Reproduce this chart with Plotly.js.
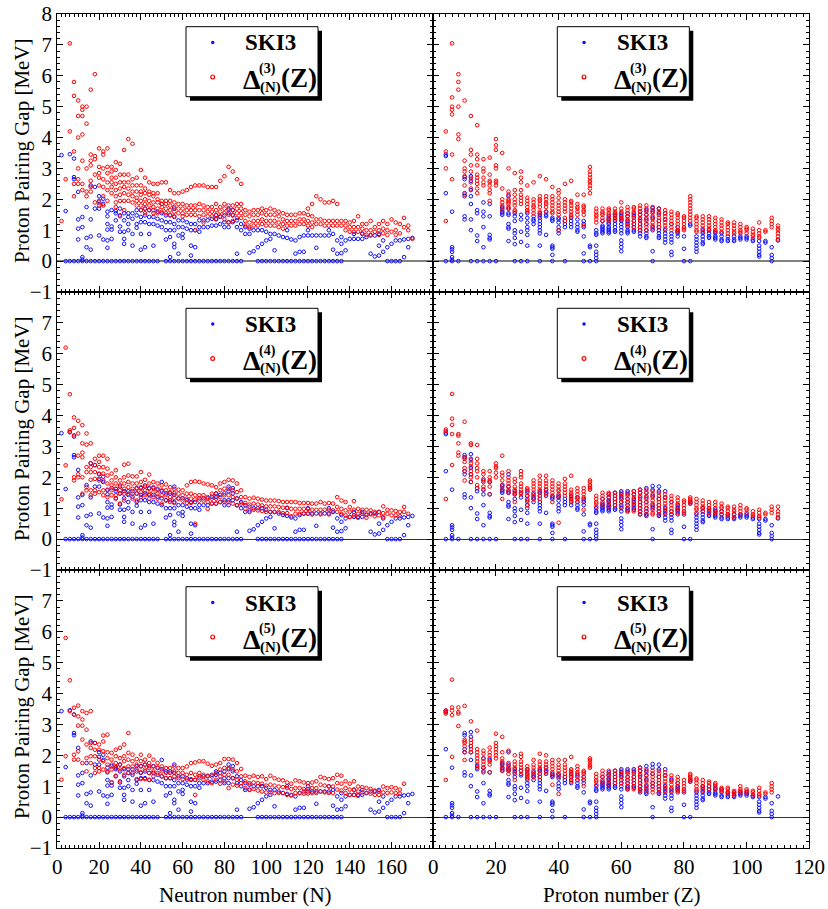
<!DOCTYPE html>
<html><head><meta charset="utf-8">
<script src="https://cdn.plot.ly/plotly-3.0.1.min.js"></script>
<style>html,body{margin:0;padding:0;background:#fff}#c{width:828px;height:909px}</style>
</head><body><div id="c"></div><script>
// ---------- DATA ----------
// SKI3 values at zero, vs neutron number N
const skiZeroN = [4,6,8,10,12,14,16,18,20,22,24,26,28,30,32,34,36,38,40,42,44,46,48,52,54,56,58,60,62,64,66,68,70,72,74,76,78,80,82,84,86,88,96,98,100,102,104,106,108,110,112,114,116,118,120,122,124,126,128,130,132,134,136,158,160,162,164];
// SKI3 non-zero values vs N: [N, values...]
const skiByN = [[2,3.43],[4,1.62],[6,3.46],[8,3.32,2.72,2.65],[10,2.24,1.35,1.05,0.7],[12,1.43,1.1,0.13,0.05],[14,1.75,0.75,0.45],[16,2.45,1.35,0.8,0.37],[18,2.4,1.7],[20,2.1,1.95,1.7,0.83],[22,2.02,1.85,0.7],[24,1.6,1.45,1.2,1.02,0.67,0.43],[26,1.65,1.12,1.02,0.72],[28,1.62,1.55,1.32],[30,1.7,1.48,1.12,0.95],[32,1.55,1.32,0.95,0.72,0.56],[34,1.55,1.43,1.2,1.0],[36,1.55,1.37,0.88,0.5],[38,1.65,1.48,1.2,1.08],[40,1.65,1.43,1.26,0.88,0.37],[42,1.7,1.48,1.26,0.45],[44,1.65,1.43,1.2,0.88],[46,1.65,1.43,1.2,0.5],[48,1.6,1.37,1.15],[50,1.85,1.55,1.32,1.1],[52,1.48,1.26,1.0,0.7],[54,1.48,1.26,1.0,0.78,0.13],[56,1.7,1.43,1.2,1.0,0.56,0.45],[58,1.32,1.1,0.83,0.24],[60,1.32,1.1,0.88,0.75],[62,1.26,1.05],[64,1.2,1.0,0.5,0.18],[66,1.2,1.0,0.45],[68,1.32,1.1,0.95],[70,1.32,1.1],[72,1.32,1.1],[74,1.37,1.15],[76,1.48,1.37,1.15],[78,1.43,1.2],[80,1.48,1.26,1.1],[82,1.7,1.55,1.26,1.1],[84,1.65,1.48,1.26],[86,1.32,1.1,0.24],[88,1.2,1.0],[90,1.1,0.88],[92,1.05,0.88,0.27],[94,1.0,0.32],[96,1.0,0.45],[98,1.0,0.56],[100,0.95,0.67],[102,0.88,0.72],[104,0.88,0.35],[106,0.83],[108,0.78],[110,1.0,0.75],[112,0.7],[114,0.67,0.24],[116,0.78,0.3],[118,0.83,0.3],[120,1.0,0.83],[122,0.83],[124,0.83,0.43],[126,0.83],[128,0.83],[130,1.0,0.83],[132,0.88,0.37],[134,0.67,0.24],[136,0.78,0.56,0.26],[138,0.67,0.35],[140,0.72],[142,0.88,0.72],[144,0.72],[146,0.88,0.72],[148,0.78],[150,0.83,0.24],[152,0.83,0.15],[154,0.88,0.5,0.18],[156,0.67,0.3],[158,0.45],[160,0.56],[162,0.67],[164,0.67],[166,0.7,0.13],[168,0.72,0.45],[170,0.75]];
// Experimental gaps vs N
const d3ByN = [[2,1.3],[4,2.65],[6,7.05,4.2],[8,5.8,5.35,3.55,2.5,2.1],[10,5.2,4.7,4.0,3.0,2.65,2.5],[12,5.0,4.9,4.7,4.1,3.25,2.5,2.3],[14,5.0,4.45,3.0,2.25,2.1],[16,5.55,3.45,3.25,3.1,2.6,2.4,2.25],[18,6.05,3.4,3.3,2.8,1.9],[20,3.65,3.05,2.85,2.7,2.45,1.9,1.8],[22,3.55,3.45,3.0,2.65,2.4,2.1,1.8],[24,3.65,3.05,2.85,2.55,2.3,1.95],[26,3.05,2.9,2.7,2.55,2.4,2.2],[28,3.2,2.95,2.7,2.5,2.3,2.1,1.9,1.75],[30,3.15,2.8,2.55,2.35,2.15,1.95,1.45],[32,3.6,2.8,2.55,2.4,2.2,1.95,1.65],[34,3.95,2.8,2.55,2.35,2.15,1.95],[36,3.8,2.65,2.45,2.25,2.1,1.9],[38,2.7,2.45,2.25,2.05,1.95,1.8],[40,2.95,2.45,2.25,2.15,1.95,1.8,1.65],[42,2.7,2.35,2.2,2.0,1.85,1.7,1.55],[44,2.55,2.25,2.15,1.95,1.8,1.65],[46,2.5,2.2,2.1,1.9,1.75,1.55],[48,2.5,2.2,2.0,1.9,1.7,1.55],[50,2.55,1.95,1.85,1.75,1.6],[52,2.55,1.95,1.85,1.7,1.55],[54,2.3,1.95,1.8,1.65,1.5],[56,2.2,1.9,1.75,1.6,1.45],[58,2.2,1.85,1.7,1.55],[60,2.25,1.85,1.7,1.55,1.45],[62,2.3,1.8,1.65,1.5],[64,2.4,1.8,1.65,1.5],[66,2.45,1.8,1.65,1.5,1.0],[68,2.45,1.85,1.65,1.45],[70,2.45,1.8,1.65,1.5,1.25],[72,2.4,1.75,1.6,1.45],[74,2.4,1.75,1.6,1.45],[76,2.4,1.85,1.65,1.5,1.35],[78,2.6,1.75,1.6,1.45],[80,2.75,1.85,1.7,1.55,1.35],[82,3.05,1.8,1.65,1.5,1.25],[84,2.9,1.8,1.65,1.5,1.3],[86,2.65,1.85,1.7,1.55,1.4],[88,2.5,1.85,1.7,1.55,1.4],[90,1.65,1.5,1.3,1.15],[92,1.6,1.45,1.25,1.1],[94,1.65,1.5,1.3,1.15],[96,1.65,1.5,1.3,1.15],[98,1.7,1.55,1.35,1.2],[100,1.65,1.5,1.3,1.15],[102,1.7,1.5,1.3,1.15],[104,1.65,1.5,1.3,1.15],[106,1.6,1.45,1.25,1.1],[108,1.55,1.35,1.2,1.05],[110,1.5,1.3,1.15],[112,1.5,1.3,1.15],[114,1.5,1.3,1.15],[116,1.55,1.35,1.2],[118,1.55,1.35,1.2],[120,1.7,1.5,1.3,1.15],[122,1.85,1.45,1.25,1.1],[124,2.1,1.35,1.2],[126,2.0,1.35,1.2],[128,1.9,1.3,1.15],[130,1.9,1.3,1.15],[132,1.95,1.3,1.15],[134,1.85,1.3,1.15],[136,1.3,1.15],[138,1.3,1.15,1.0],[140,1.25,1.1,0.95],[142,1.3,1.1,0.95],[144,1.45,1.1,0.95],[146,1.2,1.05,0.9],[148,1.2,1.0,0.85],[150,1.3,1.0,0.85],[152,1.1,0.95],[154,1.2,1.0,0.85],[156,1.3,1.05,0.9],[158,1.2,1.0,0.85],[160,1.35,0.95],[162,1.25,1.0,0.85],[164,1.2,0.9],[166,1.4,1.1],[168,1.15,1.0],[170,0.72]];
const d4ByN = [[2,1.29],[4,6.2,2.39],[6,4.69,3.52,3.47],[8,3.94,3.6,3.36,2.0,1.9],[10,3.83,3.42,2.7,2.1,2.0],[12,3.69,3.1,2.8,2.65,2.0,1.47],[14,3.42,3.06,2.33,2.17,1.68,1.58],[16,3.1,2.46,2.33,2.17,1.92,1.58,1.42],[18,2.6,2.39,2.17,1.95,1.58,1.47],[20,2.7,2.5,2.33,2.12,1.9,1.52],[22,2.7,2.33,2.12,1.9,1.58,1.42],[24,2.6,2.28,2.06,1.8,1.58,1.36],[26,2.12,1.9,1.74,1.58,1.42],[28,2.23,2.0,1.8,1.63,1.42,1.31],[30,1.9,1.74,1.58,1.47,1.15],[32,2.41,2.0,1.8,1.63,1.47,1.25],[34,2.44,2.06,1.85,1.68,1.47],[36,2.03,1.8,1.63,1.47,1.31],[38,2.03,1.8,1.63,1.47,1.25],[40,2.17,1.85,1.68,1.52,1.36],[42,1.92,1.74,1.58,1.42],[44,2.09,1.8,1.63,1.47,1.31],[46,1.85,1.68,1.52,1.36],[48,1.8,1.63,1.47,1.31],[50,1.74,1.58,1.42,1.15],[52,1.77,1.58,1.42,1.25],[54,1.68,1.52,1.36,1.2],[56,1.63,1.49,1.34,1.17],[58,1.6,1.47,1.31],[60,1.58,1.42,1.25],[62,1.74,1.47,1.31,1.17],[64,1.85,1.47,1.31,1.17],[66,1.87,1.42,1.28,0.5],[68,1.85,1.42,1.25],[70,1.8,1.42,1.25],[72,1.77,1.36,1.2,0.98],[74,1.74,1.47,1.31,1.15],[76,1.68,1.47,1.31,1.15],[78,1.8,1.58,1.36,1.2],[80,1.85,1.63,1.42,1.2],[82,1.92,1.63,1.42,1.2],[84,1.9,1.58,1.36,1.15],[86,1.8,1.52,1.31,1.09],[88,1.58,1.36,1.15],[90,1.36,1.17,0.98],[92,1.31,1.12,0.93],[94,1.34,1.15,0.95],[96,1.31,1.12,0.93],[98,1.28,1.09,0.91],[100,1.25,1.06,0.88],[102,1.25,1.06,0.88],[104,1.25,1.06,0.88],[106,1.23,1.04,0.88],[108,1.2,1.02,0.84],[110,1.2,1.02,0.84],[112,1.2,0.98,0.74],[114,1.2,0.98,0.82],[116,1.17,0.98,0.82],[118,1.17,0.98,0.82],[120,1.17,0.98,0.82],[122,1.15,0.95,0.8],[124,1.15,0.95],[126,1.2,0.95,0.8],[128,1.15,0.95],[130,1.17,0.95,0.8],[132,1.15,0.93],[134,1.36,1.04,0.88],[136,1.25,0.98,0.82],[138,1.2,0.93,0.77],[140,1.04,0.88,0.71],[142,1.23,0.95,0.77],[144,0.98,0.82,0.69],[146,0.95,0.82],[148,0.95,0.8,0.69],[150,0.93,0.8],[152,0.88,0.74],[154,0.88,0.77],[156,1.06,0.84,0.71],[158,0.95,0.82],[160,0.93,0.77],[162,0.91,0.77],[164,0.88,0.74],[166,1.04,0.88],[168,0.82]];
const d5ByN = [[2,1.21],[4,5.8,1.97],[6,4.43,3.43],[8,3.54,3.32,2.02,1.86],[10,3.61,3.26,2.96,2.13,1.86],[12,3.43,3.16,2.96,2.51,1.75],[14,3.37,2.83,2.35,1.91,1.48],[16,3.43,2.4,2.24,1.97,1.75],[18,2.4,2.18,1.97,1.59,1.43],[20,2.35,2.18,1.86,1.59,1.48],[22,2.64,2.45,2.13,1.81,1.54],[24,2.67,2.1,1.91,1.7,1.48],[26,2.08,1.86,1.7,1.54,1.12],[28,2.18,1.97,1.75,1.59,1.34],[30,2.24,1.91,1.7,1.54,1.16],[32,2.35,1.97,1.81,1.59,1.37],[34,2.72,2.08,1.86,1.64,1.43],[36,2.02,1.81,1.64,1.43],[38,1.88,1.7,1.54,1.23],[40,2.02,1.81,1.64,1.45,1.23],[42,1.86,1.7,1.54,1.23],[44,1.99,1.75,1.59,1.43,1.21],[46,1.86,1.64,1.48,1.32],[48,1.75,1.59,1.43],[50,1.64,1.48,1.32],[52,1.59,1.43,1.26],[54,1.59,1.43,1.26],[56,1.64,1.48,1.32],[58,1.59,1.43,1.26],[60,1.59,1.43,1.23],[62,1.64,1.37,1.21],[64,1.75,1.43,1.23],[66,1.77,1.37,1.21,0.72],[68,1.81,1.43,1.26],[70,1.81,1.37,1.21],[72,1.73,1.34,1.16],[74,1.66,1.32,1.1],[76,1.7,1.43,1.21],[78,1.75,1.54,1.32,1.08],[80,1.88,1.59,1.37,1.16],[82,1.88,1.59,1.37,0.94],[84,1.86,1.54,1.26,1.05],[86,1.75,1.48,1.21,1.02],[88,1.56,1.32,1.1],[90,1.34,1.16,0.94],[92,1.3,1.1,0.89],[94,1.34,1.12,0.91],[96,1.3,1.1,0.86],[98,1.32,1.08,0.83],[100,1.23,1.02,0.8],[102,1.34,1.05,0.8],[104,1.26,1.02,0.78],[106,1.21,0.99,0.78],[108,1.19,0.97,0.78],[110,1.12,0.94,0.72],[112,1.08,0.91,0.72],[114,1.19,0.94,0.78],[116,1.16,0.94,0.78],[118,1.12,0.91,0.76],[120,1.1,0.91,0.76],[122,1.12,0.94,0.78],[124,1.16,0.94,0.78],[126,1.3,1.05,0.83],[128,1.26,1.02,0.8],[130,1.23,0.99,0.78],[132,1.26,0.99,0.78],[134,1.37,1.1,0.89],[136,1.34,1.08,0.86],[138,1.16,0.94,0.78],[140,1.08,0.89,0.72],[142,1.16,0.89,0.72],[144,0.99,0.83,0.69],[146,0.97,0.8],[148,0.94,0.78],[150,0.91,0.76],[152,0.86,0.72],[154,0.83,0.72],[156,0.99,0.8],[158,0.94,0.78],[160,0.97,0.8],[162,0.94,0.78],[164,0.89,0.76],[166,1.08]];
// SKI3 vs proton number Z: [Z, values...]
const skiByZ = [[4,3.45,3.4,2.2,0],[6,1.6,0.45,0.38,0.3,0.13,0.05,0],[8,0],[10,2.72,2.65,2.2,2.1,1.45,1.35],[12,2.75,2.6,2.3,2.1,1.85,1.35,1.0,0],[14,1.65,1.55,0.83,0.65,0],[16,1.9,1.6,1.45,1.1,0.45,0],[18,1.85,1.45,0.85,0.75,0.7,0],[20,0],[22,1.75,1.7,1.6,1.55,1.5],[24,2.1,1.7,1.55,1.5,1.2,1.1,1.05,0.65],[26,1.55,1.45,1.3,1.0,0.9,0.75,0.55,0],[28,1.5,1.35,0.95,0.62,0],[30,1.55,1.4,1.25,1.1,1.0,0.85,0.5,0],[32,1.45,1.35,1.3,1.2],[34,1.55,1.5,1.4,1.3,1.2,1.1,1.0,0.9,0.5,0],[36,1.6,1.5,1.45,0.85],[38,1.4,1.35,1.3,0.5,0.45,0.4,0.2,0],[40,1.4,1.35,1.25,1.1,1.0,0.9],[42,1.3,1.2,1.1,0],[44,1.4,1.3,1.2,1.1],[46,1.35,1.2,1.1,1.0,0.95],[48,1.3,1.2,1.1,0.8,0.25,0],[50,0.5,0.45,0],[52,1.0,0.9,0.85,0.5,0.3,0.2,0.1,0],[54,1.3,1.15,1.1,1.05,1.0,0.95,0.9],[56,1.45,1.35,1.25,1.2,1.1,1.05,1.0,0.95,0.9],[58,1.5,1.4,1.3,1.2,1.1,1.0,0.95],[60,1.55,1.45,1.35,1.3,1.2,1.1,1.0,0.9,0.67,0.56,0.45,0.32],[62,1.55,1.45,1.3,1.2,1.1,1.0,0.95,0.9],[64,1.55,1.45,1.3,1.2,1.1,1.0,0.95],[66,1.6,1.5,1.35,1.2,1.1,1.0,0.9,0.8],[68,1.65,1.5,1.35,1.2,1.0,0.9,0.8,0.75],[70,1.72,1.6,1.4,1.1,1.0,0.32,0],[72,1.7,1.55,1.3,1.1,1.0,0.9,0.8,0.75],[74,1.55,1.35,1.0,0.9,0.8,0.7,0.6],[76,1.2,0.9,0.8,0.7,0.6,0.3,0.2],[78,1.1,1.0,0.95,0.9,0.8],[80,0.8,0.4,0],[82,1.2,1.15,0],[84,0.8,0.7,0.6,0.5,0.4,0.3],[86,1.0,0.9,0.8,0.7,0.6,0.55],[88,1.0,0.9,0.8,0.75],[90,0.95,0.9,0.8,0.75,0.7],[92,0.9,0.8,0.7,0.65],[94,0.8,0.7,0.65],[96,0.8,0.7,0.65],[98,0.8,0.75,0.7],[100,0.8,0.75,0.7],[102,0.7,0.65],[104,0.65,0.5,0.4,0.3,0.2,0.15],[106,0.65,0.6],[108,0.45,0.2,0.1,0],[110,0.67]];
const d3ByZ = [[4,4.2,3.55,3.0,1.3],[6,7.05,5.3,5.0,4.9,4.75,3.45,2.65],[8,6.05,5.8,5.55,5.0,4.1,3.95],[10,5.2,3.25,3.0,2.9,2.75,2.45,2.15],[12,4.7,3.6,3.45,3.1,2.9,2.7,2.55,2.35],[14,4.4,3.45,3.3,3.1,2.8,2.7,2.6,2.5,2.35,2.2],[16,3.3,3.0,2.9,2.7,2.55,2.45],[18,3.35,2.8,2.6,2.55,2.45,2.3,2.2,1.95],[20,3.95,3.75,3.6,3.1,3.0,2.6,2.55,2.45],[22,3.5,2.35,2.0,1.9,1.8,1.65],[24,3.0,2.25,2.15,2.0,1.95,1.9,1.85,1.75,1.7],[26,2.85,2.3,2.15,2.0,1.9,1.8,1.65,1.6],[28,2.9,2.7,2.55,2.3,2.15,2.05,1.95,1.85],[30,2.45,2.05,1.95,1.85,1.75,1.65,1.6],[32,2.55,2.0,1.9,1.8,1.75,1.65,1.55],[34,2.75,2.1,2.0,1.95,1.85,1.75,1.6,1.45],[36,2.65,2.1,2.0,1.9,1.85,1.75,1.6],[38,2.4,2.1,2.0,1.9,1.8,1.7,1.6,1.55],[40,2.3,2.2,2.05,1.9,1.8,1.7,1.6,1.5,1.0],[42,2.5,2.0,1.9,1.8,1.7,1.6,1.4,1.3],[44,2.6,1.95,1.9,1.8,1.7,1.6,1.5,1.45],[46,2.15,1.85,1.75,1.7,1.6,1.5],[48,2.15,1.8,1.75,1.65,1.6,1.5,1.15],[50,3.05,2.9,2.8,2.7,2.6,2.55,2.45,2.35,2.2],[52,1.7,1.6,1.5,1.45,1.35,1.25],[54,1.7,1.6,1.55,1.5,1.4,1.3],[56,1.7,1.65,1.55,1.5,1.4,1.35,1.3],[58,1.7,1.6,1.55,1.5,1.45,1.35],[60,1.9,1.7,1.6,1.5,1.4,1.35],[62,1.75,1.65,1.55,1.45,1.35,1.25,1.15],[64,1.75,1.7,1.6,1.5,1.4,1.3,1.2,1.1],[66,1.8,1.7,1.6,1.5,1.4,1.3,1.2,1.1,1.0],[68,1.8,1.7,1.6,1.5,1.4,1.3,1.2,1.1,1.0],[70,1.75,1.65,1.55,1.45,1.35,1.25,1.15,1.05],[72,1.7,1.6,1.5,1.4,1.3,1.2,1.1],[74,1.65,1.55,1.45,1.35,1.25,1.15,1.05],[76,1.6,1.5,1.4,1.3,1.2,1.1,1.0],[78,1.55,1.5,1.4,1.3,1.2,1.1,1.0,0.95],[80,1.45,1.4,1.3,1.2,1.1,1.05,1.0],[82,2.1,2.0,1.9,1.8,1.7,1.6,1.5,1.4,1.3],[84,1.45,1.4,1.3,1.2,1.1,1.0,0.95],[86,1.45,1.35,1.25,1.15,1.05,0.95],[88,1.45,1.35,1.25,1.15,1.05,1.0],[90,1.4,1.3,1.2,1.1,1.0,0.95],[92,1.35,1.25,1.15,1.05,0.95],[94,1.25,1.2,1.1,1.0,0.9],[96,1.25,1.15,1.05,0.95,0.9],[98,1.2,1.1,1.0,0.95,0.9],[100,1.1,1.05,1.0,0.9],[102,1.05,0.95,0.85,0.8],[104,1.25,1.0,0.9,0.8,0.75],[106,1.0,0.95],[108,1.4,1.3,1.2,1.1],[110,1.15,1.05,1.0,0.9,0.8,0.7]];
const d4ByZ = [[4,3.55,3.5,1.3],[6,4.7,3.9,3.7,3.4,2.4],[8,3.4,3.35,3.1,2.8,2.7],[10,3.8,2.65,2.6,2.5,2.3,2.2,1.9],[12,3.1,3.05,2.55,2.45,2.35,2.2,2.1,2.0,1.85],[14,3.05,2.6,2.45,2.3,2.2,2.0,1.75,1.65],[16,2.2,2.1,1.95,1.85,1.7,1.6],[18,2.2,2.0,1.9,1.85,1.7,1.45],[20,2.45,2.35,2.3,2.15,2.0],[22,2.7,2.15,2.05,1.9,1.75,1.6,1.3],[24,2.2,2.0,1.9,1.8,1.7,1.6,1.5],[26,1.95,1.85,1.7,1.6,1.5,1.45,1.2],[28,2.2,2.1,2.0,1.8,1.7,1.6,1.5,1.45],[30,1.65,1.6,1.5,1.4,1.3,1.2,1.1],[32,1.9,1.8,1.7,1.6,1.5,1.4,1.3],[34,2.05,1.9,1.8,1.7,1.6,1.5,1.4,1.3],[36,2.05,1.9,1.8,1.7,1.6,1.5,1.4],[38,1.9,1.8,1.7,1.6,1.5,1.4,1.2],[40,1.8,1.7,1.6,1.55,1.45,1.35,0.53],[42,1.95,1.8,1.7,1.6,1.5,1.4],[44,2.05,1.6,1.5,1.45,1.35,1.25,1.2],[46,1.65,1.55,1.45,1.35,1.3,1.2],[48,1.65,1.55,1.45,1.35,1.25,0.95],[50,1.9,1.85,1.75,1.7,1.65,1.6],[52,1.4,1.3,1.2,1.15,1.05],[54,1.5,1.4,1.3,1.2,1.1],[56,1.5,1.45,1.35,1.25,1.15,1.05],[58,1.5,1.4,1.3,1.2,1.1],[60,1.5,1.4,1.3,1.2,1.05],[62,1.5,1.4,1.3,1.2,1.1,1.0,0.9],[64,1.55,1.45,1.35,1.25,1.15,1.05,0.9],[66,1.6,1.5,1.4,1.3,1.2,1.1,1.0,0.9,0.8],[68,1.6,1.5,1.4,1.3,1.2,1.1,1.0,0.9,0.8],[70,1.55,1.45,1.35,1.25,1.15,1.05,0.95,0.85,0.8],[72,1.5,1.4,1.3,1.2,1.1,1.0,0.9,0.8],[74,1.45,1.35,1.25,1.15,1.05,0.95,0.85],[76,1.4,1.3,1.2,1.1,1.0,0.9,0.8],[78,1.35,1.25,1.15,1.05,0.95,0.85],[80,1.25,1.2,1.1,1.0,0.9,0.85],[82,1.35,1.3,1.25,1.2,1.15],[84,1.3,1.2,1.1,1.0,0.95,0.85],[86,1.25,1.15,1.05,1.0,0.9],[88,1.2,1.1,1.0,0.95,0.85],[90,1.2,1.1,1.0,0.9,0.85],[92,1.15,1.05,1.0,0.9,0.8],[94,1.05,1.0,0.9,0.8,0.75],[96,1.05,0.95,0.9,0.8,0.7],[98,1.1,1.0,0.9,0.8],[100,1.0,0.95,0.85],[102,0.9,0.8,0.75],[104,0.95,0.85,0.75,0.7],[106,0.85,0.8],[108,1.05,0.95,0.85],[110,1.05,0.9,0.8,0.7]];
const d5ByZ = [[4,3.45,3.4,3.35,1.2],[6,4.45,3.55,3.45,3.3,1.95],[8,3.55,3.4,3.35,2.95],[10,3.6,2.5,2.45,2.4,2.3,2.1,1.85],[12,3.1,2.5,2.4,2.3,2.2,2.1],[14,2.8,2.2,2.1,2.0,1.9,1.8,1.7,1.6],[16,2.15,2.05,1.9,1.8,1.7,1.6,1.5],[18,2.25,2.1,2.0,1.9,1.8,1.7,1.45],[20,2.7,2.4,2.3,2.2,2.1,2.0,1.9],[22,2.6,2.1,1.9,1.8,1.7,1.6,1.5],[24,2.15,1.75,1.65,1.6,1.55,1.5,1.4],[26,2.0,1.8,1.7,1.6,1.5,1.4,1.2],[28,2.05,1.95,1.8,1.7,1.6,1.5,1.4],[30,1.65,1.55,1.5,1.45,1.35,1.3,1.2],[32,1.85,1.7,1.6,1.5,1.4,1.3],[34,2.05,1.8,1.7,1.6,1.5,1.4,1.3],[36,2.0,1.8,1.7,1.6,1.5,1.4],[38,1.85,1.75,1.65,1.55,1.45,1.35,1.05],[40,1.85,1.7,1.6,1.5,1.4,1.3,0.75],[42,1.85,1.7,1.6,1.5,1.4,1.3],[44,1.95,1.55,1.5,1.45,1.35,1.3,1.15],[46,1.65,1.55,1.45,1.4,1.3,1.2],[48,1.5,1.45,1.4,1.3,1.2,1.0],[50,1.9,1.85,1.8,1.7,1.65,1.6],[52,1.4,1.3,1.2,1.15,1.05],[54,1.5,1.4,1.3,1.2,1.1],[56,1.5,1.4,1.35,1.25,1.15,1.05],[58,1.5,1.4,1.3,1.2,1.1],[60,1.5,1.4,1.3,1.2,1.1],[62,1.5,1.4,1.3,1.2,1.1,1.0,0.9],[64,1.5,1.4,1.3,1.2,1.1,1.0,0.9],[66,1.6,1.5,1.4,1.3,1.2,1.1,1.0,0.9,0.85],[68,1.55,1.45,1.35,1.25,1.15,1.05,0.95,0.85],[70,1.5,1.4,1.3,1.2,1.1,1.0,0.9,0.8],[72,1.5,1.4,1.3,1.2,1.1,1.0,0.9,0.8],[74,1.45,1.35,1.25,1.15,1.05,0.95,0.85],[76,1.35,1.25,1.15,1.05,0.95,0.85],[78,1.3,1.2,1.1,1.0,0.9,0.85],[80,1.2,1.1,1.0,0.9,0.85],[82,1.4,1.35,1.3,1.25,1.2,1.15],[84,1.25,1.2,1.1,1.0,0.9,0.85],[86,1.2,1.1,1.0,0.95,0.85],[88,1.15,1.1,1.0,0.9],[90,1.1,1.05,1.0,0.9],[92,0.95,0.9,0.85],[94,0.95,0.9,0.8,0.75],[96,0.85,0.8,0.75,0.7],[98,1.0,0.9,0.85,0.8],[100,0.9,0.85,0.8],[102,0.85,0.8,0.7],[104,0.95,0.85,0.75,0.7],[106,0.8,0.75],[108,1.1,1.0,0.9,0.8]];
const nTicks = [0,20,40,60,80,100,120,140,160];
const zTicks = [0,20,40,60,80,100,120];
const orders = ['3','4','5'];
const expN = [d3ByN, d4ByN, d5ByN];
const expZ = [d3ByZ, d4ByZ, d5ByZ];

// ---------- helpers ----------
function flat(rows){const x=[],y=[];rows.forEach(r=>{for(let i=1;i<r.length;i++){x.push(r[0]);y.push(r[i]);}});return {x,y};}
const W=828,H=909;
const PX=p=>p/W, PY=p=>1-p/H;
const colPx=[[57.3,433.3],[433.3,809.3]];
const rowPx=[[14,292],[292,570],[570,848]];
const FONT='Liberation Serif';
const BLUE='#1010ff', RED='#ff0000';
const DELTA='\u0394';

const skiN=flat(skiByN); skiZeroN.forEach(n=>{skiN.x.push(n);skiN.y.push(0);});
const skiZ=flat(skiByZ);

const data=[]; const layout={width:W,height:H,margin:{l:0,r:0,t:0,b:0},showlegend:false,shapes:[],annotations:[]};

for(let r=0;r<3;r++){
  for(let c=0;c<2;c++){
    const i=r*2+c+1; const sx=i===1?'':i;
    const left=c===0;
    layout['xaxis'+sx]={domain:[PX(colPx[c][0]),PX(colPx[c][1])],range:left?[0,180]:[0,120],anchor:'y'+sx,
      tickmode:'array',tickvals:left?nTicks:zTicks,showticklabels:r===2,
      ticks:'inside',ticklen:6,tickwidth:1,tickcolor:'#000',
      minor:{tickmode:'linear',tick0:0,dtick:2,ticks:'inside',ticklen:3,tickwidth:1,tickcolor:'#000'},
      showline:true,linecolor:'#000',linewidth:1,mirror:'ticks',showgrid:false,zeroline:false,
      tickfont:{family:FONT,size:21,color:'#000'}};
    layout['yaxis'+sx]={domain:[PY(rowPx[r][1]),PY(rowPx[r][0])],range:[-1,8],anchor:'x'+sx,
      tickmode:'array',tickvals:r===0?[-1,0,1,2,3,4,5,6,7,8]:[-1,0,1,2,3,4,5,6,7],showticklabels:left,
      ticks:'inside',ticklen:6,tickwidth:1,tickcolor:'#000',
      minor:{tickmode:'linear',tick0:0,dtick:0.2,ticks:'inside',ticklen:3,tickwidth:1,tickcolor:'#000'},
      showline:true,linecolor:'#000',linewidth:1,mirror:'ticks',showgrid:false,
      zeroline:true,zerolinecolor:r===0?'#808080':'#333',zerolinewidth:r===0?1.6:1,
      tickfont:{family:FONT,size:21,color:'#000'}};
    const blue=left?skiN:skiZ;
    const red=flat(left?expN[r]:expZ[r]);
    data.push({type:'scatter',mode:'markers',x:blue.x,y:blue.y,xaxis:'x'+sx,yaxis:'y'+sx,
      marker:{symbol:'circle-open',size:3.6,color:BLUE,line:{width:1,color:BLUE}}});
    data.push({type:'scatter',mode:'markers',x:red.x,y:red.y,xaxis:'x'+sx,yaxis:'y'+sx,
      marker:{symbol:'circle-open',size:3.6,color:RED,line:{width:1,color:RED}}});
    // legend box
    const bx=left?186:557.3; const by=[26.7,308.3,586.7][r];
    const bw=132, bh=70;
    layout.shapes.push({type:'rect',xref:'paper',yref:'paper',x0:PX(bx+4),x1:PX(bx+bw+4),y0:PY(by+4),y1:PY(by+bh+4),fillcolor:'#000',line:{width:0},layer:'above'});
    layout.shapes.push({type:'rect',xref:'paper',yref:'paper',x0:PX(bx),x1:PX(bx+bw),y0:PY(by),y1:PY(by+bh),fillcolor:'#fff',line:{width:1,color:'#000'},layer:'above'});
    layout.shapes.push({type:'circle',xref:'paper',yref:'paper',x0:PX(bx+25),x1:PX(bx+28.5),y0:PY(by+14),y1:PY(by+17.5),fillcolor:BLUE,line:{width:0},layer:'above'});
    layout.shapes.push({type:'circle',xref:'paper',yref:'paper',x0:PX(bx+24.8),x1:PX(bx+28.6),y0:PY(by+48.3),y1:PY(by+52.1),fillcolor:'#fff',line:{width:1.2,color:RED},layer:'above'});
    const A=(t,x,y,s)=>layout.annotations.push({text:t,xref:'paper',yref:'paper',x:PX(x),y:PY(y),xanchor:'center',yanchor:'middle',showarrow:false,font:{family:FONT,size:s,color:'#000'}});
    A('<b>SKI3</b>',bx+84.7,by+16.3,23);
    A('<b>'+DELTA+'</b>',bx+66,by+52.3,28);
    A('<b>('+orders[r]+')</b>',bx+81.5,by+42.5,14);
    A('<b>(N)</b>',bx+84.5,by+60.5,15);
    A('<b>(Z)</b>',bx+112.5,by+51.5,27);
  }
}
// axis titles
for(let r=0;r<3;r++){
  layout.annotations.push({text:'Proton Pairing Gap [MeV]',xref:'paper',yref:'paper',x:PX(22),y:PY((rowPx[r][0]+rowPx[r][1])/2-2),xanchor:'center',yanchor:'middle',textangle:-90,showarrow:false,font:{family:FONT,size:21,color:'#000'}});
}
layout.annotations.push({text:'Neutron number (N)',xref:'paper',yref:'paper',x:PX(245.3),y:PY(895),xanchor:'center',yanchor:'middle',showarrow:false,font:{family:FONT,size:21,color:'#000'}});
layout.annotations.push({text:'Proton number (Z)',xref:'paper',yref:'paper',x:PX(621.3),y:PY(895),xanchor:'center',yanchor:'middle',showarrow:false,font:{family:FONT,size:21,color:'#000'}});

Plotly.newPlot('c',data,layout,{staticPlot:true});
</script></body></html>
